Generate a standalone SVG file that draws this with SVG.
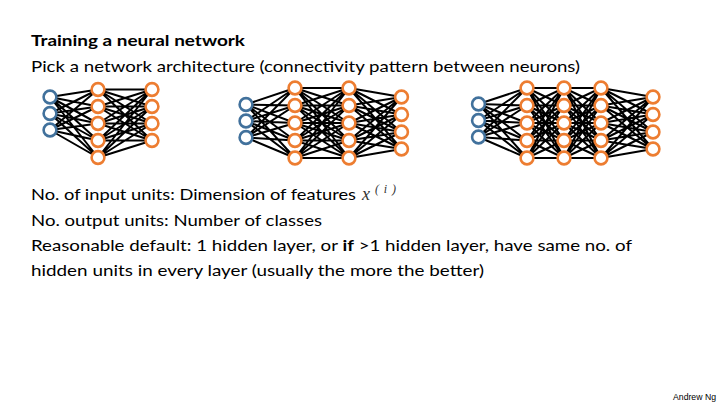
<svg xmlns="http://www.w3.org/2000/svg" width="720" height="405" viewBox="0 0 720 405">
<style>
.t{font-family:Lato,"Liberation Sans",sans-serif;font-size:16px;fill:#000}
.b{font-weight:bold}
.m{font-family:"Liberation Serif","DejaVu Serif",serif;font-style:italic;fill:#333}
.e{fill:none;stroke:#000;stroke-width:2}
.i{fill:#fff;stroke:#41719C;stroke-width:2.6}
.o{fill:#fff;stroke:#ED7D31;stroke-width:2.6}
</style>
<rect width="720" height="405" fill="#fff"/>
<g id="texts">
<text class="t b" x="31" y="46" textLength="214" lengthAdjust="spacingAndGlyphs">Training a neural network</text>
<text class="t" x="31" y="72" textLength="549" lengthAdjust="spacingAndGlyphs">Pick a network architecture (connectivity pattern between neurons)</text>
<text class="t" x="31" y="200" textLength="325" lengthAdjust="spacingAndGlyphs">No. of input units: Dimension of features</text>
<text class="m" x="362" y="200" font-size="18">x</text>
<text class="m" x="375" y="193" font-size="12" textLength="21" lengthAdjust="spacing">(i)</text>
<text class="t" x="31" y="226" textLength="291" lengthAdjust="spacingAndGlyphs">No. output units: Number of classes</text>
<text class="t" x="31" y="251" textLength="601" lengthAdjust="spacingAndGlyphs">Reasonable default: 1 hidden layer, or <tspan class="b">if</tspan> &gt;1 hidden layer, have same no. of</text>
<text class="t" x="31" y="276" textLength="453" lengthAdjust="spacingAndGlyphs">hidden units in every layer (usually the more the better)</text>
<text x="673" y="400" font-family="Liberation Sans,sans-serif" font-size="9" textLength="43" lengthAdjust="spacingAndGlyphs">Andrew Ng</text>
</g>
<g id="connectors">
<path class="e" d="M50 97L98 89.5M50 97L98 106.5M50 97L98 123.5M50 97L98 140.5M50 97L98 157.5M50 113.5L98 89.5M50 113.5L98 106.5M50 113.5L98 123.5M50 113.5L98 140.5M50 113.5L98 157.5M50 130L98 89.5M50 130L98 106.5M50 130L98 123.5M50 130L98 140.5M50 130L98 157.5"/>
<path class="e" d="M98 89.5L152 89.5M98 89.5L152 106.5M98 89.5L152 123.5M98 89.5L152 140.5M98 106.5L152 89.5M98 106.5L152 106.5M98 106.5L152 123.5M98 106.5L152 140.5M98 123.5L152 89.5M98 123.5L152 106.5M98 123.5L152 123.5M98 123.5L152 140.5M98 140.5L152 89.5M98 140.5L152 106.5M98 140.5L152 123.5M98 140.5L152 140.5M98 157.5L152 89.5M98 157.5L152 106.5M98 157.5L152 123.5M98 157.5L152 140.5"/>
<path class="e" d="M246 104.5L295 88M246 104.5L295 105.5M246 104.5L295 123M246 104.5L295 140.5M246 104.5L295 158M246 121L295 88M246 121L295 105.5M246 121L295 123M246 121L295 140.5M246 121L295 158M246 137.5L295 88M246 137.5L295 105.5M246 137.5L295 123M246 137.5L295 140.5M246 137.5L295 158"/>
<path class="e" d="M295 88L349 88M295 88L349 105.5M295 88L349 123M295 88L349 140.5M295 88L349 158M295 105.5L349 88M295 105.5L349 105.5M295 105.5L349 123M295 105.5L349 140.5M295 105.5L349 158M295 123L349 88M295 123L349 105.5M295 123L349 123M295 123L349 140.5M295 123L349 158M295 140.5L349 88M295 140.5L349 105.5M295 140.5L349 123M295 140.5L349 140.5M295 140.5L349 158M295 158L349 88M295 158L349 105.5M295 158L349 123M295 158L349 140.5M295 158L349 158"/>
<path class="e" d="M349 88L401.5 97M349 88L401.5 114.5M349 88L401.5 132M349 88L401.5 149M349 105.5L401.5 97M349 105.5L401.5 114.5M349 105.5L401.5 132M349 105.5L401.5 149M349 123L401.5 97M349 123L401.5 114.5M349 123L401.5 132M349 123L401.5 149M349 140.5L401.5 97M349 140.5L401.5 114.5M349 140.5L401.5 132M349 140.5L401.5 149M349 158L401.5 97M349 158L401.5 114.5M349 158L401.5 132M349 158L401.5 149"/>
<path class="e" d="M478.5 104L527 88M478.5 104L527 105.5M478.5 104L527 123M478.5 104L527 140.5M478.5 104L527 158M478.5 120.5L527 88M478.5 120.5L527 105.5M478.5 120.5L527 123M478.5 120.5L527 140.5M478.5 120.5L527 158M478.5 137L527 88M478.5 137L527 105.5M478.5 137L527 123M478.5 137L527 140.5M478.5 137L527 158"/>
<path class="e" d="M527 88L564 88M527 88L564 105.5M527 88L564 123M527 88L564 140.5M527 88L564 158M527 105.5L564 88M527 105.5L564 105.5M527 105.5L564 123M527 105.5L564 140.5M527 105.5L564 158M527 123L564 88M527 123L564 105.5M527 123L564 123M527 123L564 140.5M527 123L564 158M527 140.5L564 88M527 140.5L564 105.5M527 140.5L564 123M527 140.5L564 140.5M527 140.5L564 158M527 158L564 88M527 158L564 105.5M527 158L564 123M527 158L564 140.5M527 158L564 158"/>
<path class="e" d="M564 88L601 88M564 88L601 105.5M564 88L601 123M564 88L601 140.5M564 88L601 158M564 105.5L601 88M564 105.5L601 105.5M564 105.5L601 123M564 105.5L601 140.5M564 105.5L601 158M564 123L601 88M564 123L601 105.5M564 123L601 123M564 123L601 140.5M564 123L601 158M564 140.5L601 88M564 140.5L601 105.5M564 140.5L601 123M564 140.5L601 140.5M564 140.5L601 158M564 158L601 88M564 158L601 105.5M564 158L601 123M564 158L601 140.5M564 158L601 158"/>
<path class="e" d="M601 88L653 97M601 88L653 114.5M601 88L653 132M601 88L653 149M601 105.5L653 97M601 105.5L653 114.5M601 105.5L653 132M601 105.5L653 149M601 123L653 97M601 123L653 114.5M601 123L653 132M601 123L653 149M601 140.5L653 97M601 140.5L653 114.5M601 140.5L653 132M601 140.5L653 149M601 158L653 97M601 158L653 114.5M601 158L653 132M601 158L653 149"/>
</g>
<g id="net1">
<g id="n1-in"><circle class="i" cx="50" cy="97" r="6.4"/><circle class="i" cx="50" cy="113.5" r="6.4"/><circle class="i" cx="50" cy="130" r="6.4"/></g>
<g id="n1-h1"><circle class="o" cx="98" cy="89.5" r="6.4"/><circle class="o" cx="98" cy="106.5" r="6.4"/><circle class="o" cx="98" cy="123.5" r="6.4"/><circle class="o" cx="98" cy="140.5" r="6.4"/><circle class="o" cx="98" cy="157.5" r="6.4"/></g>
<g id="n1-out"><circle class="o" cx="152" cy="89.5" r="6.4"/><circle class="o" cx="152" cy="106.5" r="6.4"/><circle class="o" cx="152" cy="123.5" r="6.4"/><circle class="o" cx="152" cy="140.5" r="6.4"/></g>
</g>
<g id="net2">
<g id="n2-in"><circle class="i" cx="246" cy="104.5" r="6.4"/><circle class="i" cx="246" cy="121" r="6.4"/><circle class="i" cx="246" cy="137.5" r="6.4"/></g>
<g id="n2-h1"><circle class="o" cx="295" cy="88" r="6.4"/><circle class="o" cx="295" cy="105.5" r="6.4"/><circle class="o" cx="295" cy="123" r="6.4"/><circle class="o" cx="295" cy="140.5" r="6.4"/><circle class="o" cx="295" cy="158" r="6.4"/></g>
<g id="n2-h2"><circle class="o" cx="349" cy="88" r="6.4"/><circle class="o" cx="349" cy="105.5" r="6.4"/><circle class="o" cx="349" cy="123" r="6.4"/><circle class="o" cx="349" cy="140.5" r="6.4"/><circle class="o" cx="349" cy="158" r="6.4"/></g>
<g id="n2-out"><circle class="o" cx="401.5" cy="97" r="6.4"/><circle class="o" cx="401.5" cy="114.5" r="6.4"/><circle class="o" cx="401.5" cy="132" r="6.4"/><circle class="o" cx="401.5" cy="149" r="6.4"/></g>
</g>
<g id="net3">
<g id="n3-in"><circle class="i" cx="478.5" cy="104" r="6.4"/><circle class="i" cx="478.5" cy="120.5" r="6.4"/><circle class="i" cx="478.5" cy="137" r="6.4"/></g>
<g id="n3-h1"><circle class="o" cx="527" cy="88" r="6.4"/><circle class="o" cx="527" cy="105.5" r="6.4"/><circle class="o" cx="527" cy="123" r="6.4"/><circle class="o" cx="527" cy="140.5" r="6.4"/><circle class="o" cx="527" cy="158" r="6.4"/></g>
<g id="n3-h2"><circle class="o" cx="564" cy="88" r="6.4"/><circle class="o" cx="564" cy="105.5" r="6.4"/><circle class="o" cx="564" cy="123" r="6.4"/><circle class="o" cx="564" cy="140.5" r="6.4"/><circle class="o" cx="564" cy="158" r="6.4"/></g>
<g id="n3-h3"><circle class="o" cx="601" cy="88" r="6.4"/><circle class="o" cx="601" cy="105.5" r="6.4"/><circle class="o" cx="601" cy="123" r="6.4"/><circle class="o" cx="601" cy="140.5" r="6.4"/><circle class="o" cx="601" cy="158" r="6.4"/></g>
<g id="n3-out"><circle class="o" cx="653" cy="97" r="6.4"/><circle class="o" cx="653" cy="114.5" r="6.4"/><circle class="o" cx="653" cy="132" r="6.4"/><circle class="o" cx="653" cy="149" r="6.4"/></g>
</g>
</svg>
